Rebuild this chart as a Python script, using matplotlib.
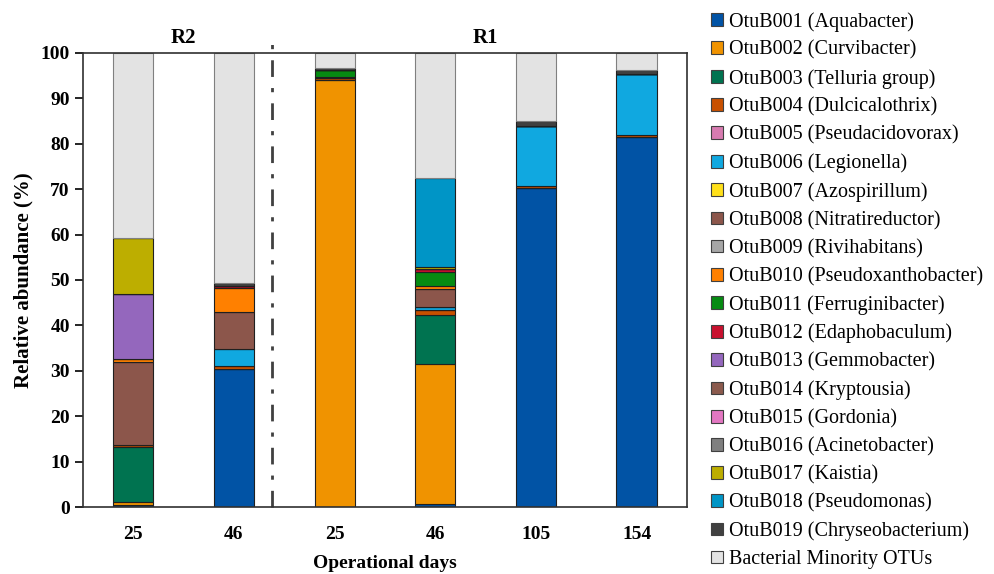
import numpy as np
import matplotlib
matplotlib.use("Agg")
import matplotlib.pyplot as plt
from matplotlib.patches import Patch

plt.rcParams['font.family'] = ['Liberation Serif', 'DejaVu Serif']

days = ['25', '46', '25', '46', '105', '154']

otu_labels = [
    "OtuB001 (Aquabacter)", "OtuB002 (Curvibacter)", "OtuB003 (Telluria group)",
    "OtuB004 (Dulcicalothrix)", "OtuB005 (Pseudacidovorax)", "OtuB006 (Legionella)",
    "OtuB007 (Azospirillum)", "OtuB008 (Nitratireductor)", "OtuB009 (Rivihabitans)",
    "OtuB010 (Pseudoxanthobacter)", "OtuB011 (Ferruginibacter)", "OtuB012 (Edaphobaculum)",
    "OtuB013 (Gemmobacter)", "OtuB014 (Kryptousia)", "OtuB015 (Gordonia)",
    "OtuB016 (Acinetobacter)", "OtuB017 (Kaistia)", "OtuB018 (Pseudomonas)",
    "OtuB019 (Chryseobacterium)", "Bacterial Minority OTUs",
]

colors = [
    "#0153A5", "#F09300", "#007350", "#C85000", "#D77BB0", "#10A8E0",
    "#FFE01A", "#8C564B", "#A6A6A6", "#FF8000", "#068B12", "#C8102E",
    "#9467BD", "#8B5A4D", "#E377C2", "#7F7F7F", "#BDAE00", "#0095C6",
    "#404040", "#E3E3E3",
]

# relative abundance (%) per bar: R2-25, R2-46, R1-25, R1-46, R1-105, R1-154
otu001 = [0.5, 30.5, 0.0, 0.7, 70.3, 81.4]
otu002 = [0.6, 0.0, 94.0, 30.7, 0.0, 0.0]
otu003 = [12.1, 0.0, 0.0, 11.0, 0.0, 0.0]
otu004 = [0.5, 0.6, 0.4, 1.1, 0.3, 0.6]
otu005 = [0.0, 0.0, 0.0, 0.0, 0.0, 0.0]
otu006 = [0.0, 3.8, 0.0, 0.6, 13.3, 13.4]
otu007 = [0.0, 0.0, 0.0, 0.0, 0.0, 0.0]
otu008 = [18.2, 8.0, 0.4, 3.9, 0.0, 0.0]
otu009 = [0.0, 0.0, 0.0, 0.0, 0.0, 0.0]
otu010 = [0.6, 5.3, 0.0, 0.7, 0.0, 0.0]
otu011 = [0.0, 0.0, 1.4, 3.1, 0.0, 0.0]
otu012 = [0.0, 0.5, 0.0, 0.7, 0.0, 0.0]
otu013 = [14.5, 0.0, 0.0, 0.0, 0.0, 0.0]
otu014 = [0.0, 0.0, 0.0, 0.0, 0.0, 0.0]
otu015 = [0.0, 0.0, 0.0, 0.0, 0.0, 0.0]
otu016 = [0.0, 0.0, 0.0, 0.0, 0.0, 0.0]
otu017 = [12.3, 0.0, 0.0, 0.4, 0.0, 0.0]
otu018 = [0.0, 0.0, 0.0, 19.6, 0.0, 0.0]
otu019 = [0.0, 0.6, 0.4, 0.0, 1.1, 0.9]

series = [otu001, otu002, otu003, otu004, otu005, otu006, otu007, otu008, otu009, otu010,
          otu011, otu012, otu013, otu014, otu015, otu016, otu017, otu018, otu019]
minority = list(100 - np.sum(series, axis=0))
series.append(minority)

fig = plt.figure(figsize=(9.95, 5.74), dpi=100)
ax = fig.add_axes([0.0834, 0.1167, 0.607, 0.791])

x = np.arange(len(days))
bottom = np.zeros(len(days))
for vals, c in zip(series, colors):
    vals = np.array(vals)
    ec = "#808080" if c == "#E3E3E3" else "#202020"
    ax.bar(x, vals, 0.4, bottom=bottom, color=c, edgecolor=ec, linewidth=0.8)
    bottom += vals

ax.set_xlim(-0.5, 5.5)
ax.set_ylim(0, 100)
ax.set_yticks(range(0, 101, 10))
ax.set_xticks(x)
ax.set_xticklabels(days)
ax.tick_params(axis='x', length=0, pad=14, labelsize=14)
ax.tick_params(axis='y', length=6, width=1.2, direction='out', labelsize=14)
for lab in ax.get_xticklabels() + ax.get_yticklabels():
    lab.set_fontweight('bold')
for s in ax.spines.values():
    s.set_linewidth(1.2)
    s.set_color('#303030')

ax.set_ylabel("Relative abundance (%)", fontsize=15, fontweight='bold', labelpad=5)
ax.set_xlabel("Operational days", fontsize=14, fontweight='bold', labelpad=8)

# reactor separator and labels
ax.plot([1.38, 1.38], [0, 103], color='#404040', linewidth=2,
        linestyle=(0, (6, 4, 1.5, 4)), clip_on=False)
ax.text(0.5, 101.2, "R2", ha='center', va='bottom', fontsize=15, fontweight='bold')
ax.text(3.5, 101.2, "R1", ha='center', va='bottom', fontsize=15, fontweight='bold')

handles = [Patch(facecolor=c, edgecolor='#404040', linewidth=0.8) for c in colors]
fig.legend(handles, otu_labels, loc='upper left', bbox_to_anchor=(0.706, 0.993),
           frameon=False, fontsize=14.5, handlelength=0.6, handleheight=0.6,
           handletextpad=0.3, labelspacing=0.44, borderaxespad=0)

fig.savefig("out.png", dpi=100)
